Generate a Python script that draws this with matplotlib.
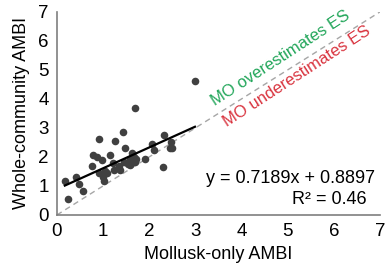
import matplotlib.pyplot as plt
import numpy as np

plt.rcParams['font.family'] = ['Liberation Sans', 'DejaVu Sans']

# data
mollusk = [0.17, 0.23, 0.42, 0.48, 0.56, 0.75, 0.79, 0.87, 0.92, 0.92,
           0.98, 1.00, 1.04, 1.01, 1.08, 1.15, 1.21, 1.25, 1.23, 1.34,
           1.37, 1.43, 1.47, 1.46, 1.53, 1.58, 1.63, 1.59, 1.67, 1.68,
           1.71, 1.90, 2.05, 2.11, 2.29, 2.32, 2.44, 2.47, 2.49, 1.70, 2.99]
whole = [1.18, 0.55, 1.32, 1.07, 0.84, 1.70, 2.08, 1.99, 2.63, 1.46,
         1.90, 1.30, 1.53, 1.17, 1.44, 2.07, 1.78, 2.56, 1.55, 1.70,
         1.55, 2.85, 2.30, 1.84, 1.76, 1.92, 2.13, 1.72, 1.99, 1.84,
         1.93, 1.92, 2.44, 2.24, 1.64, 2.76, 2.31, 2.53, 2.30, 3.68, 4.62]

slope, intercept = 0.7189, 0.8897
r2 = 0.46
one_to_one = [0, 7]

fig = plt.figure(figsize=(3.85, 2.7), dpi=100)
ax = fig.add_axes([0.148, 0.204, 0.839, 0.752])

# 1:1 line
ax.plot(one_to_one, one_to_one, color='#a6a6a6', lw=1, ls=(0, (4, 3)), zorder=1)

ax.scatter(mollusk, whole, s=30, color='#404040', zorder=3, linewidths=0)

# trend line over data range
xfit = np.array([min(mollusk), max(mollusk)])
ax.plot(xfit, slope * xfit + intercept, color='black', lw=1.6, zorder=4)

ax.set_xlim(0, 7)
ax.set_ylim(0, 7)
ax.set_xticks(range(8))
ax.set_yticks(range(8))
ax.tick_params(length=0, labelsize=13.5, pad=6, colors='black')
for side in ['top', 'right']:
    ax.spines[side].set_visible(False)
for side in ['left', 'bottom']:
    ax.spines[side].set_color('#7f7f7f')
    ax.spines[side].set_linewidth(1.2)

ax.set_xlabel('Mollusk-only AMBI', fontsize=13, labelpad=4)
ax.set_ylabel('Whole-community AMBI', fontsize=13, labelpad=6)

# labels along the 1:1 line
ang = np.degrees(np.arctan(0.752 * 2.7 / (0.839 * 3.85))) + 0.8
ax.text(4.84, 5.41, 'MO overestimates ES', color='#22a65a', fontsize=12,
        rotation=ang, ha='center', va='center', rotation_mode='anchor')
ax.text(5.2, 4.76, 'MO underestimates ES', color='#d9343f', fontsize=12,
        rotation=ang, ha='center', va='center', rotation_mode='anchor')

ax.text(6.9, 1.27, 'y = 0.7189x + 0.8897', fontsize=13, ha='right', va='center')
ax.text(6.72, 0.52, 'R² = %.2f' % r2, fontsize=13, ha='right', va='center')

fig.savefig('out.png', dpi=100)
